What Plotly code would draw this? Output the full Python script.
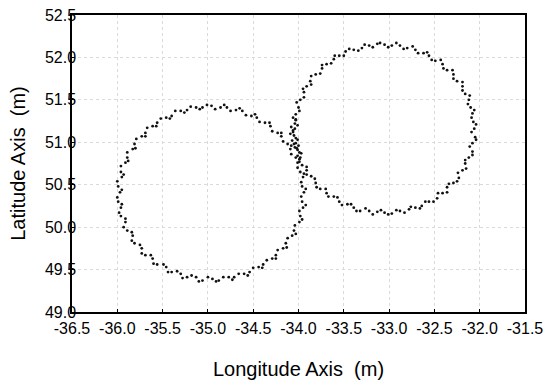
import plotly.graph_objects as go

# Left loop, first pass
left_x1 = [-33.94, -33.96, -33.95, -33.98, -34.01, -34.03, -34.09, -34.12, -34.19, -34.23,
           -34.31, -34.37, -34.46, -34.52, -34.62, -34.69, -34.79, -34.86, -34.96, -35.06,
           -35.13, -35.23, -35.30, -35.40, -35.46, -35.56, -35.61, -35.69, -35.73, -35.81,
           -35.83, -35.89, -35.91, -35.96, -35.95, -35.99, -35.97, -35.99, -35.96, -35.96,
           -35.91, -35.89, -35.83, -35.81, -35.73, -35.69, -35.61, -35.56, -35.46, -35.40,
           -35.30, -35.23, -35.13, -35.06, -34.95, -34.88, -34.77, -34.71, -34.60, -34.54,
           -34.44, -34.39, -34.29, -34.25, -34.17, -34.14, -34.07, -34.05, -33.99, -33.98,
           -33.95, -33.96]
left_y1 = [50.41, 50.48, 50.59, 50.65, 50.76, 50.82, 50.92, 50.98, 51.07, 51.11,
           51.19, 51.23, 51.29, 51.31, 51.37, 51.38, 51.41, 51.41, 51.43, 51.41,
           51.41, 51.38, 51.37, 51.31, 51.29, 51.23, 51.19, 51.11, 51.07, 50.98,
           50.92, 50.82, 50.76, 50.65, 50.59, 50.48, 50.41, 50.30, 50.23, 50.13,
           50.06, 49.96, 49.90, 49.81, 49.75, 49.67, 49.63, 49.56, 49.53, 49.47,
           49.45, 49.41, 49.41, 49.37, 49.39, 49.37, 49.41, 49.41, 49.45, 49.47,
           49.53, 49.56, 49.63, 49.67, 49.75, 49.81, 49.90, 49.96, 50.06, 50.13,
           50.23, 50.30]

# Left loop, second pass
left_x2 = [-33.92, -33.97, -33.94, -34.01, -33.99, -34.08, -34.08, -34.17, -34.19, -34.29,
           -34.32, -34.43, -34.48, -34.58, -34.65, -34.75, -34.82, -34.92,
           -35.01, -35.09, -35.19, -35.26, -35.36, -35.42, -35.52, -35.57, -35.67, -35.69,
           -35.79, -35.80, -35.89, -35.88, -35.96, -35.93, -36.00, -35.95,
           -36.00, -35.95, -35.98, -35.91, -35.93, -35.84, -35.84, -35.75, -35.73, -35.63,
           -35.60, -35.49, -35.44, -35.34, -35.28, -35.18, -35.10, -35.00,
           -34.91, -34.83, -34.73, -34.66, -34.56, -34.50, -34.40, -34.35, -34.25, -34.23,
           -34.13, -34.12, -34.03, -34.04, -33.96, -33.99, -33.92, -33.97]
left_y2 = [50.45, 50.53, 50.63, 50.70, 50.80, 50.86, 50.96, 51.01, 51.11, 51.13,
           51.23, 51.24, 51.33, 51.32, 51.40, 51.37, 51.44, 51.39,
           51.44, 51.39, 51.42, 51.35, 51.37, 51.28, 51.28, 51.19, 51.17, 51.07,
           51.04, 50.93, 50.88, 50.78, 50.72, 50.62, 50.54, 50.44,
           50.35, 50.27, 50.17, 50.10, 50.00, 49.94, 49.84, 49.79, 49.69, 49.67,
           49.57, 49.56, 49.47, 49.48, 49.40, 49.43, 49.36, 49.41,
           49.36, 49.41, 49.38, 49.45, 49.43, 49.52, 49.52, 49.61, 49.63, 49.73,
           49.76, 49.87, 49.92, 50.02, 50.09, 50.19, 50.26, 50.36]

# Right loop, first pass
right_x1 = [-32.06, -32.07, -32.08, -32.10, -32.12, -32.16, -32.19, -32.25, -32.29, -32.36,
            -32.41, -32.49, -32.56, -32.62, -32.71, -32.80, -32.88, -32.97, -33.05, -33.13,
            -33.22, -33.30, -33.39, -33.48, -33.55, -33.61, -33.69, -33.74, -33.81, -33.87,
            -33.91, -33.94, -33.98, -34.00, -34.03, -34.03, -34.04, -34.05, -34.03, -34.01,
            -33.98, -33.96, -33.91, -33.86, -33.81, -33.76, -33.69, -33.61, -33.55, -33.46,
            -33.39, -33.32, -33.22, -33.13, -33.05, -32.97, -32.88, -32.78, -32.71, -32.64,
            -32.56, -32.47, -32.41, -32.36, -32.29, -32.23, -32.19, -32.16, -32.12, -32.08,
            -32.08, -32.05]
right_y1 = [51.16, 51.24, 51.34, 51.41, 51.50, 51.57, 51.66, 51.72, 51.80, 51.85,
            51.92, 51.96, 52.02, 52.05, 52.09, 52.11, 52.14, 52.14, 52.15, 52.16,
            52.14, 52.11, 52.09, 52.07, 52.02, 51.98, 51.92, 51.87, 51.80, 51.72,
            51.66, 51.59, 51.50, 51.41, 51.33, 51.26, 51.16, 51.08, 50.99, 50.91,
            50.82, 50.73, 50.67, 50.60, 50.52, 50.45, 50.40, 50.36, 50.30, 50.27,
            50.23, 50.19, 50.19, 50.18, 50.17, 50.16, 50.19, 50.21, 50.23, 50.25,
            50.30, 50.34, 50.40, 50.47, 50.52, 50.58, 50.67, 50.75, 50.82, 50.89,
            50.99, 51.06]

# Right loop, second pass
right_x2 = [-32.04, -32.09, -32.06, -32.13, -32.11, -32.19, -32.19, -32.29, -32.30, -32.40,
            -32.43, -32.53, -32.58, -32.68, -32.74, -32.84, -32.92, -33.01,
            -33.10, -33.18, -33.27, -33.34, -33.44, -33.50, -33.60, -33.64, -33.74, -33.76,
            -33.86, -33.86, -33.95, -33.94, -34.02, -33.99, -34.06, -34.01,
            -34.06, -34.01, -34.04, -33.97, -33.99, -33.91, -33.91, -33.82, -33.80, -33.70,
            -33.67, -33.57, -33.52, -33.42, -33.36, -33.26, -33.18, -33.09,
            -33.01, -32.92, -32.83, -32.76, -32.66, -32.60, -32.51, -32.46, -32.36, -32.34,
            -32.25, -32.24, -32.15, -32.16, -32.08, -32.11, -32.04, -32.09]
right_y2 = [51.21, 51.29, 51.38, 51.45, 51.55, 51.61, 51.71, 51.75, 51.85, 51.87,
            51.97, 51.97, 52.06, 52.05, 52.13, 52.10, 52.17, 52.12,
            52.17, 52.12, 52.15, 52.08, 52.10, 52.02, 52.02, 51.93, 51.91, 51.81,
            51.78, 51.68, 51.63, 51.53, 51.47, 51.37, 51.29, 51.20,
            51.12, 51.03, 50.94, 50.87, 50.77, 50.71, 50.62, 50.57, 50.47, 50.45,
            50.36, 50.35, 50.26, 50.27, 50.19, 50.22, 50.15, 50.20,
            50.15, 50.20, 50.17, 50.24, 50.22, 50.30, 50.30, 50.40, 50.41, 50.51,
            50.54, 50.64, 50.69, 50.79, 50.85, 50.95, 51.03, 51.12]

# Dense cluster where the two loops cross
cross_x = [-34.02, -34.05, -33.99, -34.07, -34.03, -34.00, -34.08, -34.04, -34.06, -34.01, -34.09, -34.03]
cross_y = [50.93, 50.98, 50.88, 51.02, 51.05, 50.96, 51.18, 51.22, 51.14, 50.84, 51.10, 51.27]

x_ticks = [-36.5, -36.0, -35.5, -35.0, -34.5, -34.0, -33.5, -33.0, -32.5, -32.0, -31.5]
x_tick_text = ["-36.5", "-36.0", "-35.5", "-35.0", "-34.5", "-34.0", "-33.5", "-33.0", "-32.5", "-32.0", "-31.5"]
y_ticks = [49.0, 49.5, 50.0, 50.5, 51.0, 51.5, 52.0, 52.5]
y_tick_text = ["49.0", "49.5", "50.0", "50.5", "51.0", "51.5", "52.0", "52.5"]

all_x = left_x1 + left_x2 + right_x1 + right_x2 + cross_x
all_y = left_y1 + left_y2 + right_y1 + right_y2 + cross_y

FONT = "Liberation Sans, Arial, sans-serif"

fig = go.Figure(go.Scatter(
    x=all_x, y=all_y, mode="markers",
    marker=dict(color="#111111", size=2.8, line=dict(width=0)),
    showlegend=False, hoverinfo="skip",
))

axis_common = dict(
    showline=True, linecolor="black", linewidth=1.5, mirror=True,
    showgrid=True, gridcolor="#dadada", gridwidth=1, griddash="dot",
    zeroline=False, ticks="inside", ticklen=3, tickcolor="black",
    tickfont=dict(family=FONT, size=16, color="black"),
    ticklabeloverflow="allow",
)

fig.update_xaxes(
    range=[-36.5, -31.5], tickvals=x_ticks, ticktext=x_tick_text, **axis_common,
    ticklabelstandoff=1,
    title=dict(text="Longitude Axis  (m)", font=dict(family=FONT, size=20, color="black"), standoff=26),
)
fig.update_yaxes(
    range=[49.0, 52.5], tickvals=y_ticks, ticktext=y_tick_text, **axis_common,
    ticklabelstandoff=-9,
    title=dict(text="Latitude Axis  (m)", font=dict(family=FONT, size=20, color="black"), standoff=14),
)

fig.update_layout(
    width=548, height=380,
    margin=dict(l=72, r=23, t=15, b=68, autoexpand=False),
    plot_bgcolor="white", paper_bgcolor="white",
    font=dict(family=FONT, color="black"),
)

fig.write_html(
    "out.html",
    config={"displayModeBar": False},
    post_script="document.body.style.margin='0';document.body.style.overflow='hidden';",
)
